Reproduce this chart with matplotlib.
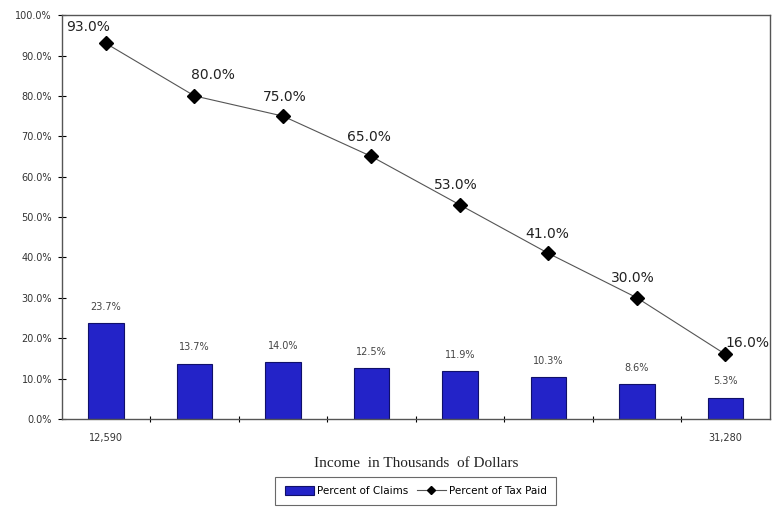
import matplotlib.pyplot as plt
import numpy as np

# Income brackets (only the end points carry a label)
income_labels = ["12,590", "", "", "", "", "", "", "31,280"]
pct_claims = [23.7, 13.7, 14.0, 12.5, 11.9, 10.3, 8.6, 5.3]
pct_tax_paid = [93.0, 80.0, 75.0, 65.0, 53.0, 41.0, 30.0, 16.0]

x = np.arange(len(pct_claims))

fig = plt.figure(figsize=(7.72, 5.23), dpi=100)
ax = fig.add_axes([0.080, 0.199, 0.917, 0.772])

# Bars: percent of claims
bars = ax.bar(x, pct_claims, width=0.4, color="#2323C8", edgecolor="#10106a",
              linewidth=0.8, label="Percent of Claims", zorder=2)
for xi, v in zip(x, pct_claims):
    ax.annotate(f"{v:.1f}%", (xi, v), xytext=(0, 8), textcoords="offset points",
                ha="center", va="bottom", fontsize=7, color="#444444")

# Line: percent of tax paid
line, = ax.plot(x, pct_tax_paid, color="#555555", linewidth=0.8, marker="D",
                markersize=7, markerfacecolor="black", markeredgecolor="black",
                label="Percent of Tax Paid", zorder=3)
label_shift = [(-13, 7), (13, 10), (1, 9), (-2, 9), (-3, 9), (-1, 9), (-3, 9), (16, 3)]
for xi, v, (dx, dy) in zip(x, pct_tax_paid, label_shift):
    ax.annotate(f"{v:.1f}%", (xi, v), xytext=(dx, dy), textcoords="offset points",
                ha="center", va="bottom", fontsize=10, color="#222222",
                annotation_clip=False)

ax.set_xlim(-0.5, len(x) - 0.5)
ax.set_ylim(0, 100)
ax.set_yticks(np.arange(0, 101, 10))
ax.set_yticklabels([f"{t:.1f}%" for t in np.arange(0, 101, 10)], fontsize=7,
                   color="#333333")
ax.tick_params(axis="y", direction="inout", length=6, width=0.8, pad=4)

# Category labels under the bars, tick marks at the boundaries
ax.set_xticks(x)
ax.set_xticklabels(income_labels, fontsize=7, color="#333333")
ax.tick_params(axis="x", length=0, pad=10)
ax.set_xticks(np.arange(0.5, len(x) - 0.5, 1), minor=True)
ax.tick_params(axis="x", which="minor", direction="inout", length=5, width=0.8)

for s in ax.spines.values():
    s.set_color("#555555")
    s.set_linewidth(1.0)

ax.set_xlabel("Income  in Thousands  of Dollars", fontsize=11,
              family="Liberation Serif", color="#222222", labelpad=10)

leg = ax.legend([bars, line], ["Percent of Claims", "Percent of Tax Paid"],
                loc="upper center", bbox_to_anchor=(0.5, -0.13), ncol=2,
                fontsize=7.5, frameon=True, fancybox=False, edgecolor="#444444",
                handlelength=2.8, handleheight=0.9, columnspacing=0.8,
                handletextpad=0.3, borderpad=0.9, markerscale=0.6)
leg.get_frame().set_linewidth(0.8)

fig.savefig("out.png", dpi=100)
